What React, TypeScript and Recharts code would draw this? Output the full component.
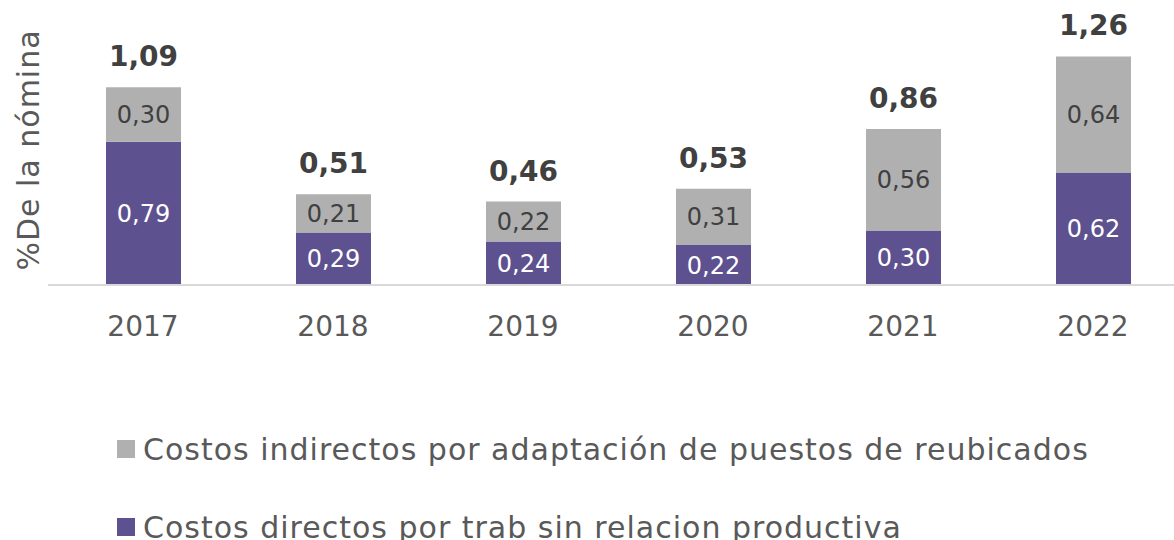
import React from 'react';
import { BarChart, Bar, XAxis, YAxis, LabelList } from 'recharts';

const years = ['2017', '2018', '2019', '2020', '2021', '2022'];
const directos = [0.79, 0.29, 0.24, 0.22, 0.30, 0.62];
const indirectos = [0.30, 0.21, 0.22, 0.31, 0.56, 0.64];
const totales = [1.09, 0.51, 0.46, 0.53, 0.86, 1.26];

const PURPLE = '#5d5190';
const GRAY = '#b0b0b0';
const FONT = '"DejaVu Sans", sans-serif';

const data = years.map((y, i) => ({
  year: y,
  directos: directos[i],
  indirectos: indirectos[i],
  total: totales[i],
}));

const fmt = (v: any) => Number(v).toFixed(2).replace('.', ',');

const legendItems = [
  { label: 'Costos indirectos por adaptación de puestos de reubicados', color: GRAY, top: 430 },
  { label: 'Costos directos por trab sin relacion productiva', color: PURPLE, top: 508 },
];

export default function App() {
  return (
    <div style={{ position: 'absolute', left: 0, top: 0, width: 1174, height: 540, overflow: 'hidden', background: '#fff' }}>
      <BarChart
        width={1188}
        height={540}
        data={data}
        margin={{ top: 31, right: 0, left: 0, bottom: 225 }}
        barSize={75}
      >
        <XAxis
          dataKey="year"
          axisLine={{ stroke: '#d9d9d9', strokeWidth: 2 }}
          tickLine={false}
          tickSize={0}
          tickMargin={31}
          height={30}
          tick={{ fill: '#595959', fontSize: 28, fontFamily: FONT }}
        />
        <YAxis
          width={48}
          domain={[0, 1.4]}
          tick={false}
          axisLine={false}
          tickLine={false}
          label={{
            value: '%De la nómina',
            angle: -90,
            position: 'center',
            dx: 4,
            dy: -8,
            style: { fill: '#595959', fontSize: 30, letterSpacing: 1, fontFamily: FONT, textAnchor: 'middle' },
          }}
        />
        <Bar dataKey="directos" stackId="a" fill={PURPLE} isAnimationActive={false}>
          <LabelList
            dataKey="directos"
            position="center"
            formatter={fmt}
            style={{ fill: '#ffffff', fontSize: 24, fontFamily: FONT }}
          />
        </Bar>
        <Bar dataKey="indirectos" stackId="a" fill={GRAY} isAnimationActive={false}>
          <LabelList
            dataKey="indirectos"
            position="center"
            formatter={fmt}
            style={{ fill: '#404040', fontSize: 24, fontFamily: FONT }}
          />
          <LabelList
            dataKey="total"
            position="top"
            offset={21}
            formatter={fmt}
            style={{ fill: '#404040', fontSize: 28, fontWeight: 'bold', fontFamily: FONT }}
          />
        </Bar>
      </BarChart>
      {legendItems.map((it) => (
        <div
          key={it.label}
          style={{
            position: 'absolute', left: 117, top: it.top, height: 38,
            display: 'flex', alignItems: 'center', whiteSpace: 'nowrap',
            fontFamily: FONT, fontSize: 30, letterSpacing: 1, color: '#595959',
          }}
        >
          <span style={{ display: 'inline-block', width: 18, height: 18, background: it.color, marginRight: 8 }} />
          <span>{it.label}</span>
        </div>
      ))}
    </div>
  );
}
